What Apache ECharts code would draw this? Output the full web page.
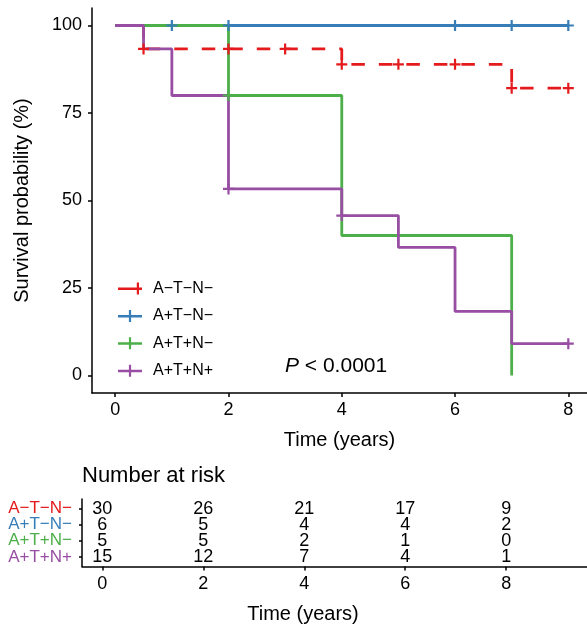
<!DOCTYPE html>
<html><head><meta charset="utf-8">
<script src="https://cdn.jsdelivr.net/npm/echarts@6/dist/echarts.min.js"></script>
<style>html,body{margin:0;padding:0;background:#fff}#c{width:587px;height:627px}</style>
</head><body><div id="c"></div>
<script>
const groups = ['A\u2212T\u2212N\u2212', 'A+T\u2212N\u2212', 'A+T+N\u2212', 'A+T+N+'];
const colors = ['#E41A1C', '#377EB8', '#4DAF4A', '#984EA3'];
// KM step data (time in years, survival %)
const g1Time = [0, 0.5, 4, 7, 8];
const g1Surv = [100, 93.3, 88.9, 82.1, 82.1];
const g1Censor = [0.5, 2, 3, 4, 5, 6, 7, 8];
const g2Time = [0, 8];
const g2Surv = [100, 100];
const g2Censor = [1, 2, 6, 7, 8];
const g3Time = [0, 2, 4, 7];
const g3Surv = [100, 80, 40, 0];
const g3Censor = [2];
const g4Time = [0, 0.5, 1, 2, 4, 5, 6, 7, 8];
const g4Surv = [100, 93.3, 80, 53.3, 45.7, 36.6, 18.3, 9.1, 9.1];
const g4Censor = [2, 4, 8];
// number at risk
const riskTimes = [0, 2, 4, 6, 8];
const risk1 = [30, 26, 21, 17, 9];
const risk2 = [6, 5, 4, 4, 2];
const risk3 = [5, 5, 2, 1, 0];
const risk4 = [15, 12, 7, 4, 1];
const xTicks = [0, 2, 4, 6, 8];
const yTicks = [0, 25, 50, 75, 100];

const FONT = "'Liberation Sans', Arial, sans-serif";
const times = [g1Time, g2Time, g3Time, g4Time];
const survs = [g1Surv, g2Surv, g3Surv, g4Surv];
const censors = [g1Censor, g2Censor, g3Censor, g4Censor];
const risks = [risk1, risk2, risk3, risk4];
const PLUS = 'path://M4,0H6V4H10V6H6V10H4V6H0V4H4Z';
const RISK_XMIN = -0.402;

function survAt(ts, ss, t) {
  let v = ss[0];
  for (let i = 0; i < ts.length; i++) if (ts[i] <= t) v = ss[i];
  return v;
}

const series = [];
groups.forEach((g, i) => {
  series.push({
    name: g, type: 'line', step: 'end', xAxisIndex: 0, yAxisIndex: 0,
    symbol: 'none', color: colors[i],
    lineStyle: { width: 2.8, color: colors[i], type: i === 0 ? [13.5, 14] : 'solid' },
    data: times[i].map((t, k) => [t, survs[i][k]]),
    z: 2 + i
  });
});
groups.forEach((g, i) => {
  series.push({
    name: g, type: 'scatter', xAxisIndex: 0, yAxisIndex: 0,
    symbol: PLUS, symbolSize: 11, itemStyle: { color: colors[i], opacity: 1 },
    data: censors[i].map(t => [t, survAt(times[i], survs[i], t)]),
    z: 10
  });
});
groups.forEach((g, i) => {
  series.push({
    type: 'scatter', xAxisIndex: 1, yAxisIndex: 1, symbolSize: 0, itemStyle: { opacity: 1 },
    label: { show: true, position: 'inside', color: '#000', fontSize: 18, fontFamily: FONT,
             formatter: p => String(p.value[2]) },
    data: riskTimes.map((t, k) => [t, i + 1, risks[i][k]])
  });
  // row label of the risk table, placed left of the y axis
  series.push({
    type: 'scatter', xAxisIndex: 1, yAxisIndex: 1, symbolSize: 0, itemStyle: { opacity: 1 },
    label: { show: true, position: 'left', distance: 10, color: colors[i], fontSize: 17, fontFamily: FONT,
             formatter: () => g },
    data: [[RISK_XMIN, i + 1]]
  });
});

const axisLine = { show: true, onZero: false, lineStyle: { color: '#000', width: 1.5 } };
const option = {
  backgroundColor: '#fff',
  animation: false,
  textStyle: { fontFamily: FONT },
  grid: [
    { left: 92, right: 0, top: 8, height: 385 },
    { left: 82, right: 0, top: 499, height: 67.5 }
  ],
  xAxis: [
    { type: 'value', gridIndex: 0, min: -0.41, max: 8.33,
      axisLine, splitLine: { show: false },
      axisTick: { show: true, length: 4, customValues: xTicks, lineStyle: { color: '#000', width: 1.5 } },
      axisLabel: { customValues: xTicks, fontSize: 18, color: '#000', margin: 8, fontFamily: FONT },
      name: 'Time (years)', nameLocation: 'middle', nameGap: 37,
      nameTextStyle: { fontSize: 20, color: '#000', fontFamily: FONT } },
    { type: 'value', gridIndex: 1, min: RISK_XMIN, max: 9.6,
      axisLine, splitLine: { show: false },
      axisTick: { show: true, length: 4, customValues: xTicks, lineStyle: { color: '#000', width: 1.5 } },
      axisLabel: { customValues: xTicks, fontSize: 18, color: '#000', margin: 9, fontFamily: FONT } }
  ],
  yAxis: [
    { type: 'value', gridIndex: 0, min: -5, max: 105,
      axisLine, splitLine: { show: false },
      axisTick: { show: true, length: 4, customValues: yTicks, lineStyle: { color: '#000', width: 1.5 } },
      axisLabel: { customValues: yTicks, fontSize: 18, color: '#000', margin: 10, fontFamily: FONT },
      name: 'Survival probability (%)', nameLocation: 'middle', nameGap: 60,
      nameTextStyle: { fontSize: 20, color: '#000', fontFamily: FONT } },
    { type: 'value', gridIndex: 1, min: 0.4, max: 4.6, inverse: true,
      axisLine, splitLine: { show: false },
      axisTick: { show: true, length: 3, customValues: [1, 2, 3, 4], lineStyle: { color: '#000', width: 1.5 } },
      axisLabel: { show: false } }
  ],
  legend: {
    orient: 'vertical', left: 113, top: 275.5,
    itemWidth: 24, itemHeight: 12, itemGap: 11.4, itemStyle: { borderWidth: 0 },
    textStyle: { fontSize: 16, color: '#000', lineHeight: 16, padding: [0, 0, 0, 6], fontFamily: FONT },
    data: groups.map((g, i) => ({
      name: g,
      icon: i === 0 ? 'path://M0,5H24V7.5H0Z M18.8,0H21V12H18.8Z' : 'path://M0,5H24V7.5H0Z M10.9,0H13.1V12H10.9Z'
    }))
  },
  graphic: [
    { type: 'text', left: 285, top: 356,
      style: { text: '{i|P} < 0.0001', fill: '#000', font: '21px ' + FONT,
               rich: { i: { fontStyle: 'italic', fontSize: 21, fontFamily: FONT } } } },
    { type: 'text', left: 82, top: 465,
      style: { text: 'Number at risk', fill: '#000', font: '22px ' + FONT } },
    { type: 'text', x: 303, y: 604,
      style: { text: 'Time (years)', fill: '#000', font: '20px ' + FONT, textAlign: 'center' } }
  ],
  series
};
const chart = echarts.init(document.getElementById('c'), null, { renderer: 'canvas' });
chart.setOption(option);
</script></body></html>
